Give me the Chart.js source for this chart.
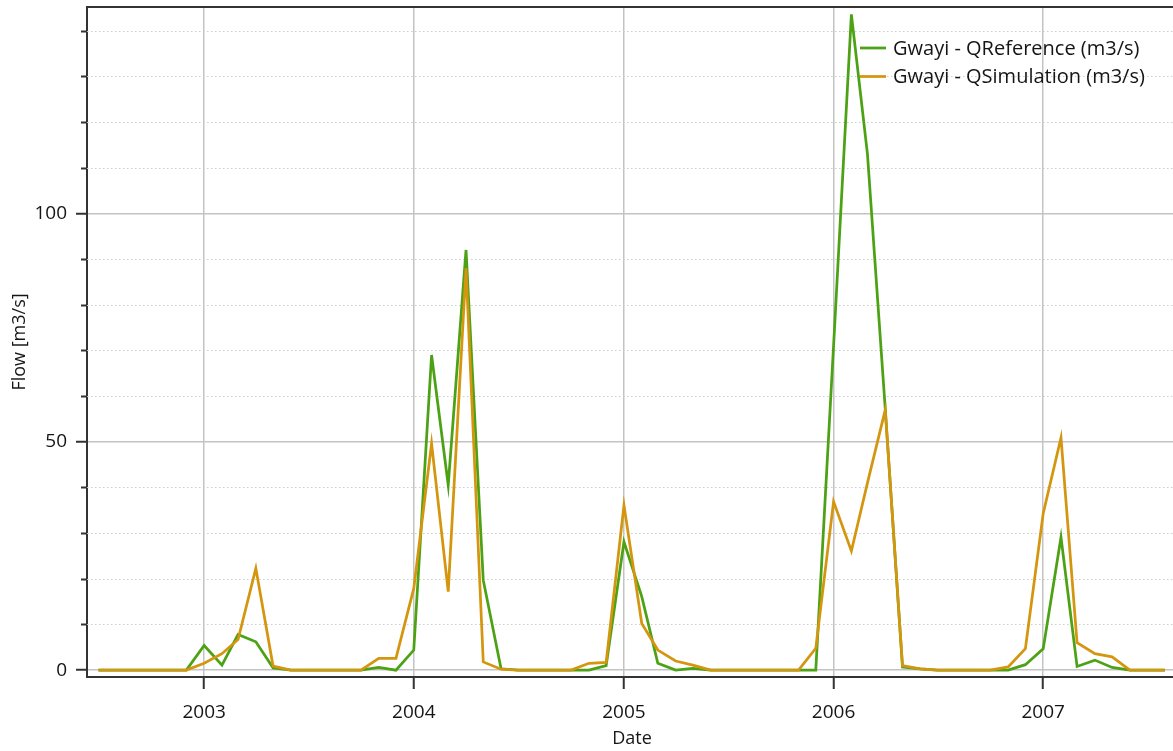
<!DOCTYPE html>
<html>
<head>
<meta charset="utf-8">
<title>Gwayi flow</title>
<script src="https://cdn.jsdelivr.net/npm/chart.js@4.4.1/dist/chart.umd.min.js"></script>
<style>
  html, body { margin: 0; padding: 0; background: #fff; overflow: hidden; }
  #wrap { position: relative; width: 1177px; height: 751px; }
</style>
</head>
<body>
<div id="wrap"><canvas id="chartFlow"></canvas></div>
<script>
// Data: monthly flow at Gwayi (m3/s)
const months = [
  "2002-07","2002-08","2002-09","2002-10","2002-11","2002-12",
  "2003-01","2003-02","2003-03","2003-04","2003-05","2003-06","2003-07","2003-08","2003-09","2003-10","2003-11","2003-12",
  "2004-01","2004-02","2004-03","2004-04","2004-05","2004-06","2004-07","2004-08","2004-09","2004-10","2004-11","2004-12",
  "2005-01","2005-02","2005-03","2005-04","2005-05","2005-06","2005-07","2005-08","2005-09","2005-10","2005-11","2005-12",
  "2006-01","2006-02","2006-03","2006-04","2006-05","2006-06","2006-07","2006-08","2006-09","2006-10","2006-11","2006-12",
  "2007-01","2007-02","2007-03","2007-04","2007-05","2007-06","2007-07","2007-08"
];
const qReference = [
  0,0,0,0,0,0,
  5.4,1.1,7.8,6.2,0.5,0,0,0,0,0,0.6,0,
  4.4,69.0,40.5,92.0,19.7,0.3,0,0,0,0,0,1.0,
  28.1,16.1,1.5,0,0.4,0,0,0,0,0,0,0,
  71,143.6,113,57.2,0.7,0.3,0,0,0,0,0,1.2,
  4.7,29.1,0.8,2.2,0.6,0,0,0
];
const qSimulation = [
  0,0,0,0,0,0,
  1.5,3.6,6.7,22.3,0.9,0,0,0,0,0,2.6,2.6,
  17.9,49.6,17.2,88.0,1.8,0.2,0,0,0,0,1.5,1.7,
  36.1,10.2,4.4,2.0,1.1,0,0,0,0,0,0,4.8,
  36.9,26.1,41,57,1.0,0.3,0,0,0,0,0.7,4.7,
  34.3,50.9,6.0,3.6,2.9,0,0,0
];
const yearTicks = [2003, 2004, 2005, 2006, 2007];
const flowTicks = [0,10,20,30,40,50,60,70,80,90,100,110,120,130,140];
const flowLabels = [0, 50, 100];

const toTime = m => { const [y, mo] = m.split("-").map(Number); return Date.UTC(y, mo - 1, 1); };
const xMin = Date.UTC(2002, 5, 11), xMax = Date.UTC(2007, 7, 22);

const family = "'Segoe UI', 'Open Sans', sans-serif";
const tickFont = { family, size: 19 };
const titleFont = { family, size: 18 };
const legendSize = 20;
const textColor = "#151515";
const green = "#4ca214", orange = "#d4960f";

// minor dotted grid + short ticks, top frame, legend inside the plot
const frame = {
  id: "frame",
  beforeDatasetsDraw(chart) {
    const { ctx, chartArea: a, scales: { y } } = chart;
    ctx.save();
    flowTicks.filter(v => !flowLabels.includes(v)).forEach(v => {
      const py = Math.round(y.getPixelForValue(v)) + 0.5;
      ctx.strokeStyle = "#cdcdcd"; ctx.lineWidth = 1; ctx.setLineDash([1.5, 2.5]);
      ctx.beginPath(); ctx.moveTo(a.left, py); ctx.lineTo(a.right, py); ctx.stroke();
      ctx.setLineDash([]); ctx.strokeStyle = "#333"; ctx.lineWidth = 2;
      ctx.beginPath(); ctx.moveTo(a.left - 6, py); ctx.lineTo(a.left, py); ctx.stroke();
    });
    ctx.strokeStyle = "#333"; ctx.lineWidth = 2;
    ctx.beginPath(); ctx.moveTo(a.left - 1, a.top); ctx.lineTo(a.right, a.top); ctx.stroke();
    ctx.restore();
  },
  afterDatasetsDraw(chart) {
    const { ctx, chartArea: a } = chart;
    ctx.save();
    ctx.font = `${legendSize}px ${family}`;
    ctx.textBaseline = "middle";
    chart.data.datasets.forEach((ds, i) => {
      const ly = a.top + 41 + i * 28.5;
      const lx = a.left + 773;
      ctx.strokeStyle = ds.borderColor; ctx.lineWidth = 2.75;
      ctx.beginPath(); ctx.moveTo(lx, ly); ctx.lineTo(lx + 26, ly); ctx.stroke();
      ctx.fillStyle = textColor;
      ctx.fillText(ds.label, lx + 33, ly + 1);
    });
    ctx.restore();
  }
};

new Chart(document.getElementById("chartFlow").getContext("2d"), {
  type: "line",
  data: {
    datasets: [
      { label: "Gwayi - QReference (m3/s)", data: months.map((m, i) => ({ x: toTime(m), y: qReference[i] })),
        borderColor: green, borderWidth: 2.75, order: 1 },
      { label: "Gwayi - QSimulation (m3/s)", data: months.map((m, i) => ({ x: toTime(m), y: qSimulation[i] })),
        borderColor: orange, borderWidth: 2.75, order: 0 }
    ]
  },
  options: {
    responsive: true, maintainAspectRatio: false, animation: false,
    layout: { padding: { top: 7, left: 0, right: 0, bottom: 0 } },
    elements: { point: { radius: 0 }, line: { tension: 0, fill: false } },
    plugins: { legend: { display: false }, tooltip: { enabled: false } },
    scales: {
      x: {
        type: "linear", min: xMin, max: xMax,
        afterBuildTicks: s => { s.ticks = yearTicks.map(y => ({ value: Date.UTC(y, 0, 1) })); },
        afterFit: s => { s.height = 74; s.paddingLeft = 0; s.paddingRight = 0; },
        ticks: { callback: v => String(new Date(v).getUTCFullYear()), autoSkip: false, maxRotation: 0,
                 font: tickFont, color: textColor, padding: 12 },
        grid: { color: "#c3c3c3", lineWidth: 1.5, tickColor: "#333", tickLength: 12, tickWidth: 2 },
        border: { color: "#333", width: 2 },
        title: { display: true, text: "Date", font: titleFont, color: textColor, padding: { top: 0, bottom: 1 } }
      },
      y: {
        type: "linear", min: -1.5, max: 145.2,
        afterBuildTicks: s => { s.ticks = flowTicks.map(v => ({ value: v })); },
        afterFit: s => { s.width = 87; s.paddingTop = 0; s.paddingBottom = 0; },
        ticks: { callback: v => flowLabels.includes(v) ? String(v) : "", autoSkip: false,
                 font: tickFont, color: textColor, padding: 9 },
        grid: {
          color: c => flowLabels.includes(c.tick && c.tick.value) ? "#c3c3c3" : "rgba(0,0,0,0)",
          tickColor: c => flowLabels.includes(c.tick && c.tick.value) ? "#333" : "rgba(0,0,0,0)",
          lineWidth: 1.5, tickLength: 11, tickWidth: 2
        },
        border: { color: "#333", width: 2 },
        title: { display: true, text: "Flow [m3/s]", font: titleFont, color: textColor, padding: { top: 9, bottom: 0 } }
      }
    }
  },
  plugins: [frame]
});
</script>
</body>
</html>
